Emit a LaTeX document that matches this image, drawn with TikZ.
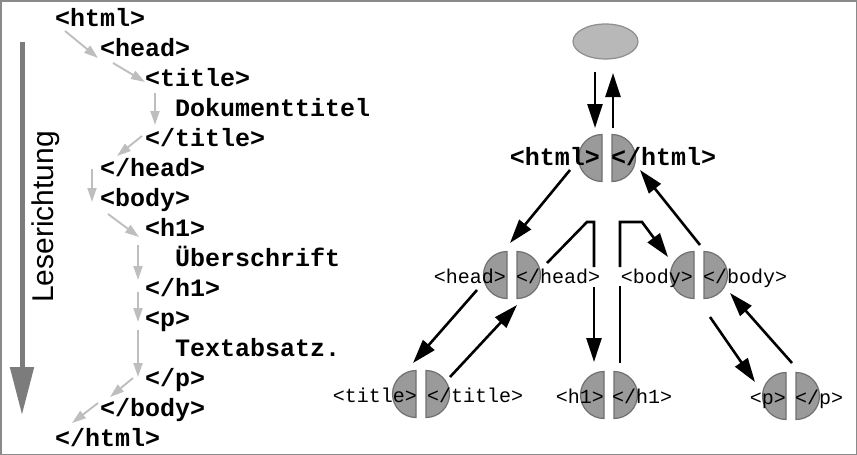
\documentclass[tikz,border=0pt]{standalone}
\usepackage{fontspec}
\setmainfont{Liberation Serif}
\setsansfont{Liberation Sans}
\setmonofont{Liberation Mono}
\usetikzlibrary{arrows.meta,shapes.geometric}
\definecolor{framegray}{HTML}{8A8A8A}
\definecolor{readgray}{HTML}{BEBEBE}
\definecolor{dirgray}{HTML}{7C7C7C}
\definecolor{ellfill}{HTML}{B8B8B8}
\definecolor{ellborder}{HTML}{8E8E8E}
\definecolor{diskfill}{HTML}{9A9A9A}
\definecolor{diskborder}{HTML}{707070}
\newcommand\halfpair[3]{%
  \coordinate (#1) at (#2,-#3);
  \filldraw[halfdisk] ([shift={(-5,23.5)}]#1) arc[start angle=90,end angle=270,radius=23.5] -- cycle;
  \filldraw[halfdisk] ([shift={(5,-23.5)}]#1) arc[start angle=-90,end angle=90,radius=23.5] -- cycle;
}
\begin{document}
\begin{tikzpicture}[x=1pt,y=1pt,
  frame/.style={draw=framegray,line width=1.5pt},
  readarrow/.style={draw=readgray,line width=1.9pt,-{Triangle[length=14pt,width=9pt]}},
  dirarrow/.style={draw=dirgray,line width=5pt,-{Triangle[length=48pt,width=23pt]}},
  blackarr/.style={line width=2.6pt,-{Triangle[length=24pt,width=15pt]}},
  blackline/.style={line width=2.6pt},
  halfdisk/.style={fill=diskfill,draw=diskborder,line width=1.2pt},
  src/.style={font=\ttfamily\bfseries\fontsize{25}{25}\selectfont,inner sep=0pt,anchor=mid west,yshift=-5pt},
  htmlopen/.style={font=\ttfamily\bfseries\fontsize{25}{25}\selectfont,inner sep=0pt,anchor=mid east,yshift=-5pt},
  htmlclose/.style={font=\ttfamily\bfseries\fontsize{25}{25}\selectfont,inner sep=0pt,anchor=mid west,yshift=-5pt},
  tagopen/.style={font=\ttfamily\fontsize{20}{20}\selectfont,inner sep=0pt,anchor=mid east,yshift=-6pt},
  tagclose/.style={font=\ttfamily\fontsize{20}{20}\selectfont,inner sep=0pt,anchor=mid west,yshift=-6pt},
  rootell/.style={ellipse,draw=ellborder,fill=ellfill,line width=1.2pt,minimum width=65pt,minimum height=35pt,inner sep=0pt}
]
\useasboundingbox (0,0) rectangle (857,-455);
\draw[frame] (0.75,-0.75) rectangle (856.25,-454.25);

% ---------- left: source text ----------
\node[src] (l1)  at (55,-19)  {<html>};
\node[src] (l2)  at (100,-49) {<head>};
\node[src] (l3)  at (145,-79) {<title>};
\node[src] (l4)  at (175,-109) {Dokumenttitel};
\node[src] (l5)  at (145,-139) {</title>};
\node[src] (l6)  at (100,-169) {</head>};
\node[src] (l7)  at (100,-199) {<body>};
\node[src] (l8)  at (145,-229) {<h1>};
\node[src] (l9)  at (175,-259) {Überschrift};
\node[src] (l10) at (145,-289) {</h1>};
\node[src] (l11) at (145,-319) {<p>};
\node[src] (l12) at (175,-349) {Textabsatz.};
\node[src] (l13) at (145,-379) {</p>};
\node[src] (l14) at (100,-409) {</body>};
\node[src] (l15) at (55,-439) {</html>};

% reading-order arrows
\coordinate (r1s) at (65,-31);   \coordinate (r1e) at (98,-58);
\coordinate (r2s) at (113,-63);  \coordinate (r2e) at (145,-82);
\coordinate (r3s) at (155,-93);  \coordinate (r3e) at (155,-125);
\coordinate (r4s) at (142,-136); \coordinate (r4e) at (117,-156);
\coordinate (r5s) at (92,-169);  \coordinate (r5e) at (92,-202);
\coordinate (r6s) at (108,-214); \coordinate (r6e) at (139,-237);
\coordinate (r7s) at (138,-245); \coordinate (r7e) at (138,-280);
\coordinate (r8s) at (138,-292); \coordinate (r8e) at (138,-322);
\coordinate (r9s) at (138,-330); \coordinate (r9e) at (138,-377);
\coordinate (r10s) at (133,-378); \coordinate (r10e) at (110,-397);
\coordinate (r11s) at (98,-403); \coordinate (r11e) at (72,-423);
\foreach \i in {1,...,11} { \draw[readarrow] (r\i s) -- (r\i e); }

% Leserichtung
\coordinate (dirS) at (22,-42);
\coordinate (dirE) at (22,-415);
\draw[dirarrow] (dirS) -- (dirE);
\node[rotate=90,font=\sffamily\fontsize{30}{30}\selectfont,inner sep=0pt] (lese) at (46,-217) {Leserichtung};

% ---------- right: tree ----------
\node[rootell] (root) at (605.5,-41.5) {};
\halfpair{html}{607}{158}
\halfpair{head}{512}{275}
\halfpair{body}{699}{275}
\halfpair{title}{421}{394}
\halfpair{hone}{609}{395}
\halfpair{para}{791}{396}

% arrows
\coordinate (aS) at (595,-72);  \coordinate (aE) at (595,-128);
\coordinate (bS) at (613,-128); \coordinate (bE) at (613,-73);
\coordinate (cS) at (570,-170); \coordinate (cE) at (510,-243);
\coordinate (dS) at (700,-245); \coordinate (dE) at (640,-170);
\coordinate (eS) at (477,-290); \coordinate (eE) at (413,-363);
\coordinate (fS) at (450,-377); \coordinate (fE) at (517,-305);
\coordinate (iS) at (710,-317); \coordinate (iE) at (755,-382);
\coordinate (jS) at (792,-363); \coordinate (jE) at (730,-293);
\draw[blackarr] (aS) -- (aE);
\draw[blackarr] (bS) -- (bE);
\draw[blackarr] (cS) -- (cE);
\draw[blackarr] (dS) -- (dE);
\draw[blackarr] (eS) -- (eE);
\draw[blackarr] (fS) -- (fE);
\draw[blackarr] (iS) -- (iE);
\draw[blackarr] (jS) -- (jE);

\coordinate (g1) at (547,-263); \coordinate (g2) at (587,-222);
\coordinate (g3) at (594,-222); \coordinate (g4) at (594,-267);
\coordinate (g5) at (594,-287); \coordinate (g6) at (594,-362);
\draw[blackline] (g1) -- (g2) -- (g3) -- (g4);
\draw[blackarr] (g5) -- (g6);

\coordinate (h1) at (620,-363); \coordinate (h2) at (620,-286);
\coordinate (h3) at (620,-267); \coordinate (h4) at (620,-222);
\coordinate (h5) at (642,-222); \coordinate (h6) at (668,-257);
\draw[blackline] (h1) -- (h2);
\draw[blackarr] (h3) -- (h4) -- (h5) -- (h6);

% labels
\node[htmlopen]  (htmlO)  at ([xshift=-7]html) {<html>};
\node[htmlclose] (htmlC)  at ([xshift=4]html)  {</html>};
\node[tagopen]   (headO)  at ([xshift=-6]head) {<head>};
\node[tagclose]  (headC)  at ([xshift=4]head)  {</head>};
\node[tagopen]   (bodyO)  at ([xshift=-6]body) {<body>};
\node[tagclose]  (bodyC)  at ([xshift=4]body)  {</body>};
\node[tagopen]   (titleO) at ([xshift=-4]title) {<title>};
\node[tagclose]  (titleC) at ([xshift=6]title)  {</title>};
\node[tagopen]   (honeO)  at ([xshift=-5]hone) {<h1>};
\node[tagclose]  (honeC)  at ([xshift=3]hone)  {</h1>};
\node[tagopen]   (paraO)  at ([xshift=-5]para) {<p>};
\node[tagclose]  (paraC)  at ([xshift=4]para)  {</p>};
\end{tikzpicture}
\end{document}
